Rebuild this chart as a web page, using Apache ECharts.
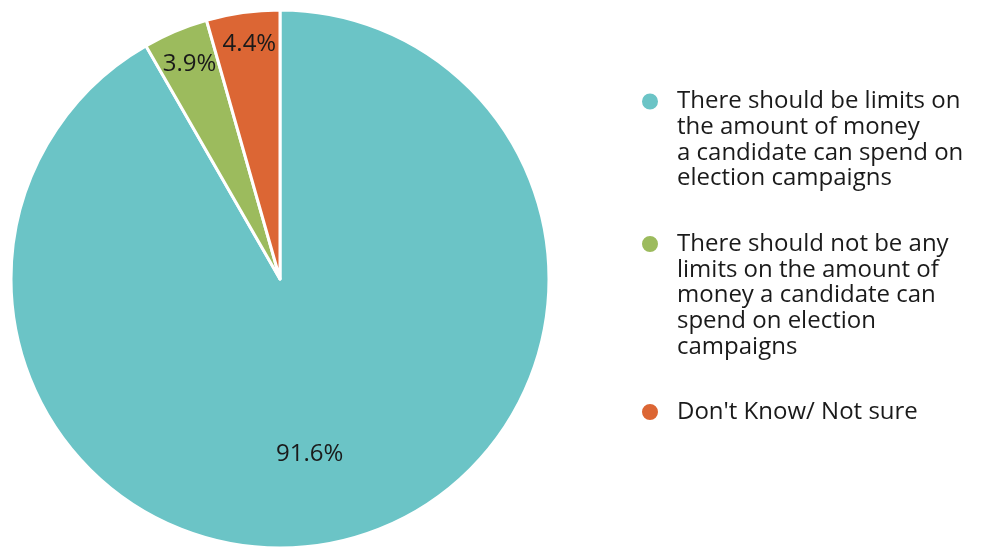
<!DOCTYPE html>
<html>
<head>
<meta charset="utf-8">
<title>Limits on election campaign spending</title>
<script src="https://cdn.jsdelivr.net/npm/echarts@6/dist/echarts.min.js"></script>
<style>
  html, body { margin: 0; padding: 0; background: #ffffff; }
  #chart { width: 981px; height: 550px; }
</style>
</head>
<body>
<div id="chart"></div>
<script>
// Survey answers and their shares (percent)
const categories = [
  'There should be limits on the amount of money a candidate can spend on election campaigns',
  'There should not be any limits on the amount of money a candidate can spend on election campaigns',
  "Don't Know/ Not sure"
];
const shares = [91.6, 3.9, 4.4];
const colors = ['#6bc4c6', '#9cbb5d', '#dc6634'];

// Legend text, broken into lines
const legendLines = [
  ['There should be limits on', 'the amount of money', 'a candidate can spend on', 'election campaigns'],
  ['There should not be any', 'limits on the amount of', 'money a candidate can', 'spend on election', 'campaigns'],
  ["Don't Know/ Not sure"]
];

// Pie geometry
const cx = 280, cy = 279, R = 269;
// Percentage label placement: distance out from the centre (fraction of radius)
// and a small turn (degrees, clockwise) away from the slice's middle direction
const labelRadius = [0.66, 0.865, 0.88];
const labelTurn = [5.3, 0, 0.5];

const total = shares.reduce((a, b) => a + b, 0);
function midAngle(i) {
  let before = 0;
  for (let k = 0; k < i; k++) before += shares[k];
  return ((before + shares[i] / 2) / total) * 2 * Math.PI; // clockwise from 12 o'clock
}

const LH = 25.7;          // legend line height
const iconY = [101.5, 244, 412];

// Each legend entry is its own component so its icon sits beside the first text line:
// the text is centred on the icon, so blank lines are put ahead of the wrapped text.
const legends = categories.map((name, i) => {
  const n = legendLines[i].length;
  return {
    data: [name],
    orient: 'vertical',
    left: 640,
    top: iconY[i] - (2 * n - 1) * LH / 2,
    padding: 0,
    icon: 'circle',
    itemWidth: 18,
    itemHeight: 18,
    selectedMode: false,
    formatter: () => '\n'.repeat(n - 1) + legendLines[i].join('\n'),
    textStyle: {
      fontFamily: 'Open Sans',
      fontSize: 24,
      lineHeight: LH,
      color: '#1a1a1a',
      padding: [0, 0, 0, 13]
    }
  };
});

const chart = echarts.init(document.getElementById('chart'), null, { renderer: 'canvas' });
chart.setOption({
  backgroundColor: '#ffffff',
  animation: false,
  color: colors,
  legend: legends,
  series: [{
    type: 'pie',
    center: [cx, cy],
    radius: [0, R],
    startAngle: 90,
    clockwise: true,
    avoidLabelOverlap: false,
    silent: true,
    itemStyle: { borderColor: '#ffffff', borderWidth: 3 },
    label: {
      show: true,
      position: 'inside',
      formatter: p => p.value.toFixed(1) + '%',
      fontFamily: 'Open Sans',
      fontSize: 24,
      color: '#1a1a1a'
    },
    labelLine: { show: false },
    labelLayout: params => {
      const i = params.dataIndex;
      const a = midAngle(i) + labelTurn[i] * Math.PI / 180;
      const r = labelRadius[i] * R;
      return {
        x: cx + Math.sin(a) * r,
        y: cy - Math.cos(a) * r,
        align: 'center',
        verticalAlign: 'middle'
      };
    },
    data: categories.map((name, i) => ({ name, value: shares[i] }))
  }]
});
</script>
</body>
</html>
